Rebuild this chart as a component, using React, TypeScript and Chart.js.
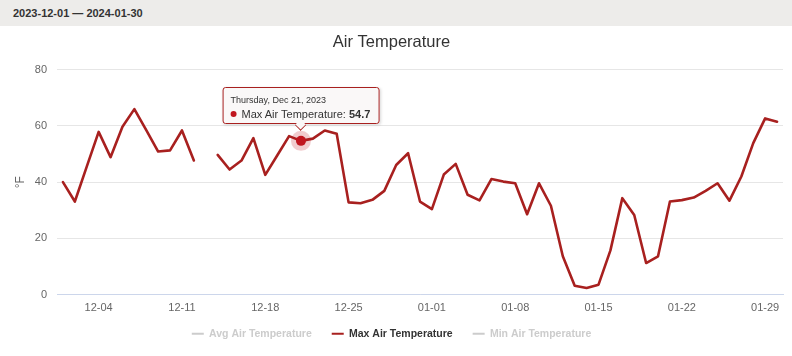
import React, { useEffect, useRef } from "react";
import { Chart, registerables } from "chart.js";

Chart.register(...registerables);

const RANGE_LABEL = "2023-12-01 — 2024-01-30";
const TITLE = "Air Temperature";
const Y_TITLE = "°F";

const DATES = [
  "2023-12-01", "2023-12-02", "2023-12-03", "2023-12-04", "2023-12-05", "2023-12-06", "2023-12-07",
  "2023-12-08", "2023-12-09", "2023-12-10", "2023-12-11", "2023-12-12", "2023-12-13", "2023-12-14",
  "2023-12-15", "2023-12-16", "2023-12-17", "2023-12-18", "2023-12-19", "2023-12-20", "2023-12-21",
  "2023-12-22", "2023-12-23", "2023-12-24", "2023-12-25", "2023-12-26", "2023-12-27", "2023-12-28",
  "2023-12-29", "2023-12-30", "2023-12-31", "2024-01-01", "2024-01-02", "2024-01-03", "2024-01-04",
  "2024-01-05", "2024-01-06", "2024-01-07", "2024-01-08", "2024-01-09", "2024-01-10", "2024-01-11",
  "2024-01-12", "2024-01-13", "2024-01-14", "2024-01-15", "2024-01-16", "2024-01-17", "2024-01-18",
  "2024-01-19", "2024-01-20", "2024-01-21", "2024-01-22", "2024-01-23", "2024-01-24", "2024-01-25",
  "2024-01-26", "2024-01-27", "2024-01-28", "2024-01-29", "2024-01-30",
];

const MAX_TEMP: (number | null)[] = [
  40.0, 33.1, 45.5, 57.9, 48.9, 59.7, 66.0, 58.5, 50.9, 51.3, 58.4, 47.7, null, 49.7,
  44.5, 47.7, 55.7, 42.6, 49.5, 56.4, 54.7, 55.5, 58.4, 57.2, 32.8, 32.5, 33.7, 36.9,
  46.1, 50.3, 33.1, 30.4, 42.7, 46.5, 35.5, 33.5, 41.1, 40.2, 39.6, 28.6, 39.6, 31.6,
  13.6, 3.1, 2.3, 3.5, 15.7, 34.3, 28.3, 11.2, 13.6, 33.1, 33.6, 34.5, 36.9, 39.6,
  33.4, 42.0, 53.9, 62.7, 61.5,
];
const AVG_TEMP: (number | null)[] = [];
const MIN_TEMP: (number | null)[] = [];

const SERIES_NAMES = ["Avg Air Temperature", "Max Air Temperature", "Min Air Temperature"];
const X_TICK_LABELS = ["12-04", "12-11", "12-18", "12-25", "01-01", "01-08", "01-15", "01-22", "01-29"];
const Y_MIN = 0;
const Y_MAX = 80;
const Y_STEP = 20;
const TOOLTIP_INDEX = 20;

const WEEKDAYS = ["Sunday", "Monday", "Tuesday", "Wednesday", "Thursday", "Friday", "Saturday"];
const MONTHS = ["Jan", "Feb", "Mar", "Apr", "May", "Jun", "Jul", "Aug", "Sep", "Oct", "Nov", "Dec"];

const FONT = '"Liberation Sans", Arial, sans-serif';
const MAX_COLOR = "#a8201f";
const POINT_COLOR = "#c0161f";
const HIDDEN_COLOR = "#cccccc";

function longDate(iso: string) {
  const d = new Date(iso + "T00:00:00Z");
  return `${WEEKDAYS[d.getUTCDay()]}, ${MONTHS[d.getUTCMonth()]} ${d.getUTCDate()}, ${d.getUTCFullYear()}`;
}

export default function App() {
  const canvasRef = useRef<HTMLCanvasElement | null>(null);
  const tipRef = useRef<HTMLDivElement | null>(null);

  useEffect(() => {
    const canvas = canvasRef.current;
    if (!canvas) return;

    const highlight = {
      id: "highlight",
      afterDatasetsDraw(chart: any) {
        const meta = chart.getDatasetMeta(1);
        const el = meta.data[TOOLTIP_INDEX];
        if (!el) return;
        const ctx = chart.ctx;
        ctx.save();
        ctx.beginPath();
        ctx.arc(el.x, el.y, 10, 0, Math.PI * 2);
        ctx.fillStyle = "rgba(192,22,31,0.22)";
        ctx.fill();
        ctx.beginPath();
        ctx.arc(el.x, el.y, 5, 0, Math.PI * 2);
        ctx.fillStyle = POINT_COLOR;
        ctx.fill();
        ctx.restore();
      },
    };

    const legendShift = {
      id: "legendShift",
      afterLayout(chart: any) {
        const lg = chart.legend;
        if (lg) {
          lg.top -= 7;
          lg.bottom -= 7;
        }
      },
    };

    const chart = new Chart(canvas, {
      type: "line",
      data: {
        labels: DATES,
        datasets: [
          { label: SERIES_NAMES[0], data: AVG_TEMP, hidden: true, borderColor: HIDDEN_COLOR },
          {
            label: SERIES_NAMES[1],
            data: MAX_TEMP,
            borderColor: MAX_COLOR,
            backgroundColor: MAX_COLOR,
            borderWidth: 2.6,
            pointRadius: 0,
            pointHoverRadius: 0,
            tension: 0,
            spanGaps: false,
            borderJoinStyle: "round",
            borderCapStyle: "round",
          },
          { label: SERIES_NAMES[2], data: MIN_TEMP, hidden: true, borderColor: HIDDEN_COLOR },
        ],
      },
      options: {
        animation: false,
        responsive: false,
        devicePixelRatio: 1,
        events: [],
        layout: { padding: { left: 0, right: 9, top: 0, bottom: 0 } },
        plugins: {
          title: {
            display: true,
            text: TITLE,
            color: "#333333",
            font: { family: FONT, size: 16.5, weight: "normal" },
            padding: { top: 7, bottom: 17 },
          },
          legend: {
            position: "bottom",
            labels: {
              boxWidth: 12,
              boxHeight: 2,
              padding: 20,
              color: "#333333",
              font: { family: FONT, size: 10.5, weight: "bold" },
              generateLabels: (c: any) =>
                c.data.datasets.map((ds: any, i: number) => {
                  const off = !!ds.hidden;
                  const col = off ? HIDDEN_COLOR : MAX_COLOR;
                  return {
                    text: ds.label,
                    fillStyle: col,
                    strokeStyle: col,
                    lineWidth: 0,
                    hidden: false,
                    fontColor: off ? HIDDEN_COLOR : "#333333",
                    datasetIndex: i,
                  };
                }),
            },
          },
          tooltip: { enabled: false },
        },
        scales: {
          x: {
            type: "category",
            offset: true,
            grid: { display: false, drawTicks: false },
            border: { display: true, color: "#ccd6eb", width: 1 },
            ticks: {
              autoSkip: false,
              maxRotation: 0,
              minRotation: 0,
              padding: 7,
              color: "#666666",
              font: { family: FONT, size: 11 },
              callback: (_v: any, i: number) => {
                const lbl = DATES[i].slice(5);
                return X_TICK_LABELS.includes(lbl) ? lbl : null;
              },
            },
            afterFit: (s: any) => {
              s.height = 21;
            },
          },
          y: {
            min: Y_MIN,
            max: Y_MAX,
            ticks: {
              stepSize: Y_STEP,
              padding: 10,
              color: "#666666",
              font: { family: FONT, size: 11 },
            },
            grid: { color: "#e6e6e6", drawTicks: false, lineWidth: 1 },
            border: { display: false },
            title: {
              display: true,
              text: Y_TITLE,
              color: "#666666",
              font: { family: FONT, size: 12 },
              padding: { top: 13, bottom: 0 },
            },
            afterFit: (s: any) => {
              s.width = 57;
            },
          },
        },
      },
      plugins: [highlight, legendShift],
    } as any);

    const el: any = chart.getDatasetMeta(1).data[TOOLTIP_INDEX];
    const tip = tipRef.current;
    if (el && tip) {
      tip.style.left = `${el.x}px`;
      tip.style.top = `${el.y + 26 - 17}px`;
      tip.style.display = "block";
    }

    return () => chart.destroy();
  }, []);

  const tipValue = MAX_TEMP[TOOLTIP_INDEX];

  return (
    <div style={{ position: "relative", width: 792, height: 356, background: "#ffffff", fontFamily: FONT }}>
      <style>{`body{margin:0;}`}</style>
      <div
        style={{
          height: 26,
          background: "#edecea",
          color: "#333333",
          fontWeight: "bold",
          fontSize: 11,
          lineHeight: "26px",
          paddingLeft: 13,
          boxSizing: "border-box",
        }}
      >
        {RANGE_LABEL}
      </div>
      <canvas ref={canvasRef} width={792} height={330} style={{ display: "block", width: 792, height: 330 }} />
      <div
        ref={tipRef}
        style={{
          position: "absolute",
          display: "none",
          transform: "translate(-50%, -100%)",
          pointerEvents: "none",
        }}
      >
        <div
          style={{
            position: "relative",
            background: "rgba(250,248,248,0.95)",
            border: `1px solid ${MAX_COLOR}`,
            borderRadius: 3,
            boxShadow: "1px 1px 3px rgba(0,0,0,0.15)",
            padding: "5px 8px 2px 7px",
            whiteSpace: "nowrap",
            color: "#333333",
          }}
        >
          <div style={{ fontSize: 9, lineHeight: "14px" }}>{longDate(DATES[TOOLTIP_INDEX])}</div>
          <div style={{ fontSize: 11, lineHeight: "14px" }}>
            <span
              style={{
                display: "inline-block",
                width: 6,
                height: 6,
                borderRadius: 3,
                background: POINT_COLOR,
                marginRight: 5,
                verticalAlign: "middle",
                position: "relative",
                top: -1,
              }}
            />
            {SERIES_NAMES[1]}: <b>{tipValue}</b>
          </div>
          <div
            style={{
              position: "absolute",
              left: "50%",
              bottom: -7,
              width: 9,
              height: 9,
              marginLeft: -5,
              background: "rgba(250,248,248,1)",
              borderRight: `1px solid ${MAX_COLOR}`,
              borderBottom: `1px solid ${MAX_COLOR}`,
              transform: "rotate(45deg) scale(0.8, 0.8)",
              transformOrigin: "center",
            }}
          />
        </div>
      </div>
    </div>
  );
}
